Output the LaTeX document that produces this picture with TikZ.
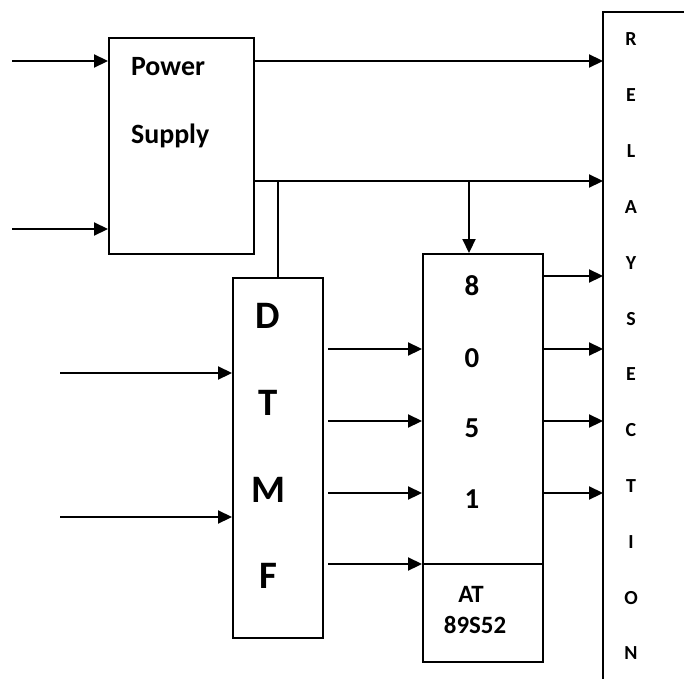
\documentclass[tikz,border=0pt]{standalone}
\usepackage{fontspec}
\setmainfont{Carlito}
\usepackage{tikz}
\usetikzlibrary{
    arrows.meta,
    calc
}

\begin{document}
\begin{tikzpicture}[x=1bp, y=-1bp,
    line width=2.2bp,
    blk/.style={draw, rectangle, anchor=north west, inner sep=0pt},
    arr/.style={-{Triangle[length=14bp,width=13bp]}},
    lbl/.style={anchor=base, inner sep=0pt, font=\bfseries}]

\useasboundingbox (0,0) rectangle (684,679);

% Blocks
\node[blk, minimum width=145bp, minimum height=216bp] (ps) at (108,37) {};
\node[blk, minimum width=90bp, minimum height=360bp] (dtmf) at (232,277) {};
\node[blk, minimum width=120bp, minimum height=408bp] (mcu) at (422,253) {};
\coordinate (relay) at (603,12);
\draw (684,12) -- (relay) -- (relay |- 0,679);
\draw (mcu.west |- 0,564) -- (mcu.east |- 0,564);

% Labels
\node[lbl, anchor=base west, font=\bfseries\fontsize{28}{30}\selectfont] (pwr) at (130,76) {Power};
\node[lbl, anchor=base west, font=\bfseries\fontsize{28}{30}\selectfont] (sup) at (130,143) {Supply};
\foreach \ch/\y [count=\i] in {D/328,T/415,M/502,F/588}
  \node[lbl, font=\bfseries\fontsize{39}{40}\selectfont] (dt\i) at (268,\y) {\ch};
\foreach \ch/\y [count=\i] in {8/295,0/367,5/437,1/508}
  \node[lbl, font=\bfseries\fontsize{29}{30}\selectfont] (dg\i) at (472,\y) {\ch};
\node[lbl, font=\bfseries\fontsize{25}{26}\selectfont] (at) at (471,602) {AT};
\node[lbl, font=\bfseries\fontsize{25}{26}\selectfont] (part) at (475,633) {89S52};
\foreach \ch [count=\i] in {R,E,L,A,Y,S,E,C,T,I,O,N}
  \node[lbl, font=\bfseries\fontsize{20}{21}\selectfont] (rl\i) at (631,{46+55.8*(\i-1)}) {\ch};

% Inputs
\coordinate (in1) at (12,61);
\coordinate (in2) at (12,229);
\coordinate (in3) at (60,373);
\coordinate (in4) at (60,517);
\draw[arr] (in1) -- (in1 -| ps.west);
\draw[arr] (in2) -- (in2 -| ps.west);
\draw[arr] (in3) -- (in3 -| dtmf.west);
\draw[arr] (in4) -- (in4 -| dtmf.west);

% Supply lines
\coordinate (pso) at (ps.east |- 0,181);
\coordinate (tap) at (469,181);
\draw[arr] (ps.east |- in1) -- (relay |- in1);
\draw[arr] (pso) -- (relay |- pso);
\draw (dtmf.north) -- (dtmf.north |- pso);
\draw[arr] (tap) -- (tap |- mcu.north);

% DTMF to 8051
\foreach \y in {349,421,493,564}
  \draw[arr] ($(dtmf.east |- 0,\y)+(4,0)$) -- (mcu.west |- 0,\y);

% 8051 to relays
\foreach \y in {276,349,421,493}
  \draw[arr] (mcu.east |- 0,\y) -- (relay |- 0,\y);

\end{tikzpicture}
\end{document}
